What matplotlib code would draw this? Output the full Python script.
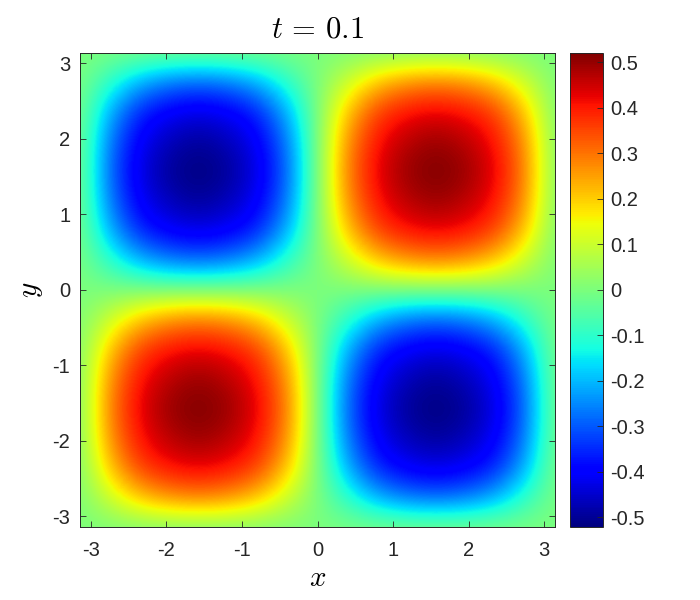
import numpy as np
import matplotlib
matplotlib.use('Agg')
import matplotlib.pyplot as plt

plt.rcParams['font.family'] = ['Liberation Sans', 'DejaVu Sans']
plt.rcParams['mathtext.fontset'] = 'cm'
plt.rcParams['axes.unicode_minus'] = False

# values, rows go from y=-pi up to y=pi
u_values = [
    [0, 0, 0, 0, 0, 0, 0, 0, 0, 0, 0, 0, 0, 0, 0, 0, 0],
    [0, .10, .21, .27, .29, .27, .21, .10, 0, -.10, -.21, -.27, -.29, -.27, -.21, -.10, 0],
    [0, .21, .36, .41, .43, .41, .36, .21, 0, -.21, -.36, -.41, -.43, -.41, -.36, -.21, 0],
    [0, .27, .41, .47, .50, .47, .41, .27, 0, -.27, -.41, -.47, -.50, -.47, -.41, -.27, 0],
    [0, .29, .43, .50, .525, .50, .43, .29, 0, -.29, -.43, -.50, -.525, -.50, -.43, -.29, 0],
    [0, .27, .41, .47, .50, .47, .41, .27, 0, -.27, -.41, -.47, -.50, -.47, -.41, -.27, 0],
    [0, .21, .36, .41, .43, .41, .36, .21, 0, -.21, -.36, -.41, -.43, -.41, -.36, -.21, 0],
    [0, .10, .21, .27, .29, .27, .21, .10, 0, -.10, -.21, -.27, -.29, -.27, -.21, -.10, 0],
    [0, 0, 0, 0, 0, 0, 0, 0, 0, 0, 0, 0, 0, 0, 0, 0, 0],
    [0, -.10, -.21, -.27, -.29, -.27, -.21, -.10, 0, .10, .21, .27, .29, .27, .21, .10, 0],
    [0, -.21, -.36, -.41, -.43, -.41, -.36, -.21, 0, .21, .36, .41, .43, .41, .36, .21, 0],
    [0, -.27, -.41, -.47, -.50, -.47, -.41, -.27, 0, .27, .41, .47, .50, .47, .41, .27, 0],
    [0, -.29, -.43, -.50, -.525, -.50, -.43, -.29, 0, .29, .43, .50, .525, .50, .43, .29, 0],
    [0, -.27, -.41, -.47, -.50, -.47, -.41, -.27, 0, .27, .41, .47, .50, .47, .41, .27, 0],
    [0, -.21, -.36, -.41, -.43, -.41, -.36, -.21, 0, .21, .36, .41, .43, .41, .36, .21, 0],
    [0, -.10, -.21, -.27, -.29, -.27, -.21, -.10, 0, .10, .21, .27, .29, .27, .21, .10, 0],
    [0, 0, 0, 0, 0, 0, 0, 0, 0, 0, 0, 0, 0, 0, 0, 0, 0],
]
axis_ticks = [-3, -2, -1, 0, 1, 2, 3]
cbar_ticks = [-0.5, -0.4, -0.3, -0.2, -0.1, 0, 0.1, 0.2, 0.3, 0.4, 0.5]
cbar_labels = ['-0.5', '-0.4', '-0.3', '-0.2', '-0.1', '0', '0.1', '0.2', '0.3', '0.4', '0.5']

fig = plt.figure(figsize=(7, 6), dpi=100)
ax = fig.add_axes([80 / 700, 73 / 600, 475 / 700, 474.5 / 600])
cax = fig.add_axes([570 / 700, 73 / 600, 33 / 700, 474.5 / 600])

# the grid points sit on the cell centres, so the image overshoots by half a cell
half = np.pi / 16
im = ax.imshow(u_values, origin='lower', cmap='jet', vmin=-0.522, vmax=0.522,
               extent=[-np.pi - half, np.pi + half, -np.pi - half, np.pi + half],
               interpolation='bicubic', aspect='auto')
ax.set_xlim(-np.pi, np.pi)
ax.set_ylim(-np.pi, np.pi)
ax.set_xticks(axis_ticks)
ax.set_yticks(axis_ticks)
ax.tick_params(direction='in', length=4, width=0.6, top=True, right=True,
               labelsize=14.5, colors='#262626')
ax.tick_params(axis='x', pad=10)
ax.tick_params(axis='y', pad=7)
ax.set_xlabel(r'$x$', fontsize=21, labelpad=3)
ax.set_ylabel(r'$y$', fontsize=21, labelpad=5)
ax.set_title(r'$t\,=\,0.1$', fontsize=22, pad=11)

cbar = fig.colorbar(im, cax=cax)
cbar.set_ticks(cbar_ticks)
cbar.set_ticklabels(cbar_labels)
cbar.ax.tick_params(direction='in', length=4, width=0.6, labelsize=14.5, pad=5,
                    colors='#262626')

for spine in list(ax.spines.values()) + list(cax.spines.values()):
    spine.set_linewidth(0.7)
    spine.set_color('#262626')

fig.savefig('out.png', dpi=100)
